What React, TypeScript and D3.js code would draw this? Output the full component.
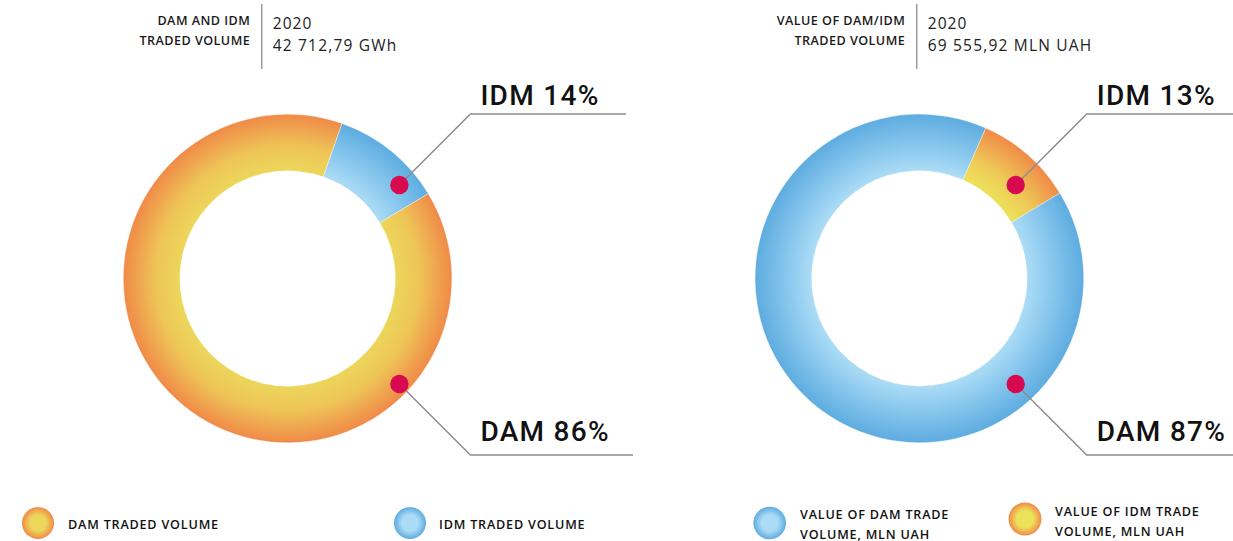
import React from "react";
import * as d3 from "d3";

// ---- data ----
const segments = ["IDM", "DAM"];
// shares as drawn in the rings
const volumeShares = [11, 89];
const valueShares = [9.7, 90.3];
// labelled percentages
const volumePctLabels = ["IDM 14%", "DAM 86%"];
const valuePctLabels = ["IDM 13%", "DAM 87%"];
const headerTitles = [
  ["DAM AND IDM", "TRADED VOLUME"],
  ["VALUE OF DAM/IDM", "TRADED VOLUME"],
];
const headerYear = ["2020", "2020"];
const headerTotals = ["42 712,79 GWh", "69 555,92 MLN UAH"];
const legendVolume = [["DAM TRADED VOLUME"], ["IDM TRADED VOLUME"]];
const legendValue = [
  ["VALUE OF DAM TRADE", "VOLUME, MLN UAH"],
  ["VALUE OF IDM TRADE", "VOLUME, MLN UAH"],
];

const W = 1233;
const H = 541;
const R_OUT = 164.3;
const R_IN = 107.7;

const ORANGE = { inner: "#ecd65b", mid: "#eec557", outer: "#f08a48" };
const BLUE = { inner: "#acdcf5", mid: "#8ac8ee", outer: "#5eace0" };
const YELLOW_ORANGE = { inner: "#ece25a", mid: "#eec857", outer: "#f08a48" };

const charts = [
  {
    id: "vol",
    cx: 287.6,
    cy: 278.5,
    shares: volumeShares,
    labels: volumePctLabels,
    startDeg: 19.3,
    colors: [BLUE, ORANGE],
    dots: [
      { dx: 111.8, dy: -93.5, dir: -1, lineEnd: 626 },
      { dx: 111.8, dy: 105.5, dir: 1, lineEnd: 633 },
    ],
    header: 0,
    dividerX: 261.7,
  },
  {
    id: "val",
    cx: 919.4,
    cy: 278.4,
    shares: valueShares,
    labels: valuePctLabels,
    startDeg: 23.8,
    colors: [YELLOW_ORANGE, BLUE],
    dots: [
      { dx: 96.3, dy: -93.4, dir: -1, lineEnd: 1233 },
      { dx: 96.3, dy: 105.6, dir: 1, lineEnd: 1233 },
    ],
    header: 1,
    dividerX: 916.7,
  },
];

const legends = [
  { x: 38, y: 523, r: 16, color: ORANGE, lines: legendVolume[0], tx: 68, ty: 528.5 },
  { x: 410, y: 523, r: 16, color: BLUE, lines: legendVolume[1], tx: 439, ty: 528.5 },
  { x: 769.7, y: 523, r: 16.3, color: BLUE, lines: legendValue[0], tx: 800, ty: 519 },
  { x: 1025, y: 519, r: 16.5, color: YELLOW_ORANGE, lines: legendValue[1], tx: 1055, ty: 516 },
];

const SMALL_FONT = "'Open Sans', 'DejaVu Sans', sans-serif";
const BIG_FONT = "Roboto, 'Noto Sans', sans-serif";

export default function App() {
  const arc = d3.arc<d3.PieArcDatum<number>>().innerRadius(R_IN).outerRadius(R_OUT);

  return (
    <div style={{ position: "absolute", left: 0, top: 0 }}>
      <svg width={W} height={H} viewBox={`0 0 ${W} ${H}`} style={{ display: "block", background: "#fff" }}>
        <defs>
          {charts.map((c) =>
            c.colors.map((col, i) => (
              <radialGradient
                key={`${c.id}-${i}`}
                id={`g-${c.id}-${i}`}
                gradientUnits="userSpaceOnUse"
                cx={0}
                cy={0}
                r={R_OUT}
              >
                <stop offset={R_IN / R_OUT} stopColor={col.inner} />
                <stop offset={0.8} stopColor={col.mid} />
                <stop offset={1} stopColor={col.outer} />
              </radialGradient>
            ))
          )}
          {legends.map((l, i) => (
            <radialGradient key={`lg${i}`} id={`lg-${i}`} cx="0.5" cy="0.5" r="0.5">
              <stop offset="0" stopColor={l.color.inner} />
              <stop offset="0.5" stopColor={l.color.inner} />
              <stop offset="1" stopColor={l.color.outer} />
            </radialGradient>
          ))}
        </defs>

        {charts.map((c) => {
          const start = (c.startDeg * Math.PI) / 180;
          const pie = d3
            .pie<number>()
            .sort(null)
            .startAngle(start)
            .endAngle(start + 2 * Math.PI);
          const arcs = pie(c.shares);
          const h = c.header;
          return (
            <g key={c.id}>
              {/* header */}
              <g fontFamily={SMALL_FONT}>
                {headerTitles[h].map((t, i) => (
                  <text
                    key={i}
                    x={c.dividerX - 11.5}
                    y={25 + i * 20}
                    textAnchor="end"
                    fontSize={12.6}
                    fontWeight={600}
                    letterSpacing={0.45}
                    fill="#1a1a1a"
                  >
                    {t}
                  </text>
                ))}
                <line x1={c.dividerX} x2={c.dividerX} y1={4} y2={69} stroke="#9a9a9a" strokeWidth={1.5} />
                <text x={c.dividerX + 11} y={28.5} fontSize={15.5} fill="#222" letterSpacing={1.1}>
                  {headerYear[h]}
                </text>
                <text x={c.dividerX + 11} y={51} fontSize={15.5} fill="#222" letterSpacing={1.2}>
                  {headerTotals[h]}
                </text>
              </g>

              {/* ring */}
              <g transform={`translate(${c.cx},${c.cy})`}>
                {arcs.map((a, i) => (
                  <path
                    key={i}
                    d={arc(a) || ""}
                    fill={`url(#g-${c.id}-${i})`}
                    stroke="#ffffff"
                    strokeWidth={0.6}
                    strokeOpacity={0.6}
                  />
                ))}
              </g>

              {/* leaders */}
              {c.dots.map((d, i) => {
                const px = c.cx + d.dx;
                const py = c.cy + d.dy;
                const ex = px + 71;
                const ey = py + 71 * d.dir;
                const label = c.labels[d.dir < 0 ? 0 : 1];
                return (
                  <g key={i}>
                    <polyline
                      points={`${px},${py} ${ex},${ey} ${d.lineEnd},${ey}`}
                      fill="none"
                      stroke="#8c8c8c"
                      strokeWidth={1.5}
                    />
                    <circle cx={px} cy={py} r={9.2} fill="#d70a4f" />
                    <text
                      x={ex + 10}
                      y={d.dir < 0 ? ey - 9 : ey - 14}
                      fontFamily={BIG_FONT}
                      fontWeight={500}
                      fontSize={28}
                      letterSpacing={1.3}
                      fill="#111"
                    >
                      {label}
                    </text>
                  </g>
                );
              })}
            </g>
          );
        })}

        {/* legends */}
        {legends.map((l, i) => (
          <g key={i} fontFamily={SMALL_FONT}>
            <circle cx={l.x} cy={l.y} r={l.r} fill={`url(#lg-${i})`} />
            {l.lines.map((t, j) => (
              <text
                key={j}
                x={l.tx}
                y={l.ty + j * 19.5}
                fontSize={12.6}
                fontWeight={600}
                letterSpacing={0.8}
                fill="#111"
              >
                {t}
              </text>
            ))}
          </g>
        ))}
      </svg>
    </div>
  );
}
